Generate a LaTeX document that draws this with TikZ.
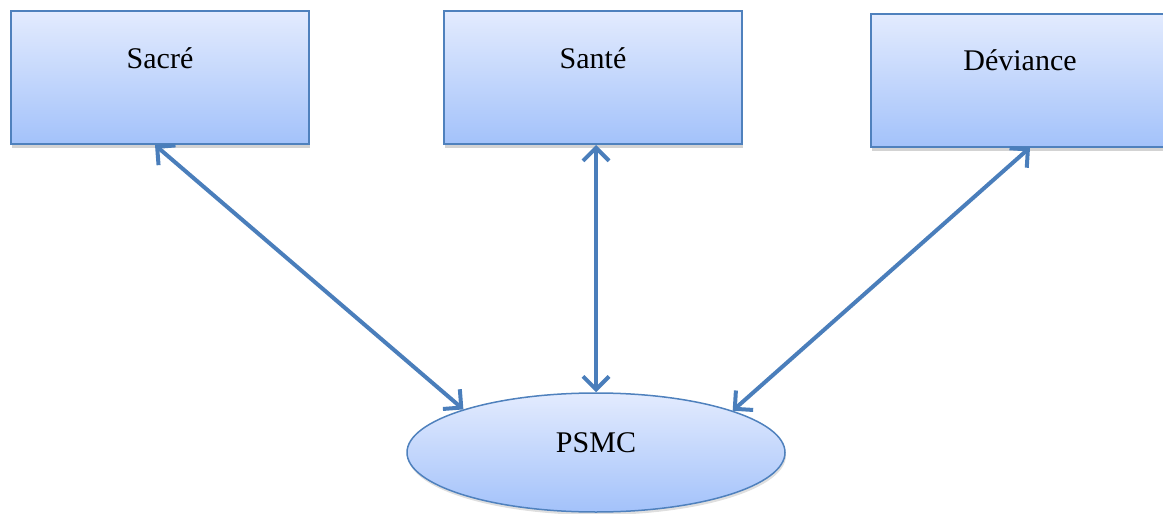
\documentclass[tikz,border=0pt]{standalone}
\usepackage{xcolor}
\usepackage{fontspec}
\setmainfont{Liberation Serif}
\usetikzlibrary{shadows,arrows.meta,shapes,positioning}
\definecolor{boxline}{RGB}{79,129,189}
\definecolor{boxtop}{RGB}{227,235,254}
\definecolor{boxbottom}{RGB}{163,194,250}
\definecolor{arrowline}{RGB}{74,126,187}

\begin{document}
\begin{tikzpicture}[x=1pt,y=-1pt,
  every node/.style={font=\fontsize{30}{36}\selectfont},
  concept/.style={rectangle,draw=boxline,line width=2pt,
    top color=boxtop,bottom color=boxbottom,
    minimum width=298pt,inner ysep=10pt,
    text height=47pt,text depth=66pt,
    drop shadow={shadow xshift=1pt,shadow yshift=-4pt,opacity=0.35}},
  core/.style={ellipse,draw=boxline,line width=1.5pt,
    top color=boxtop,bottom color=boxbottom,
    minimum width=378pt,minimum height=119pt,inner sep=0pt,
    text height=20pt,text depth=20pt,
    drop shadow={shadow xshift=1pt,shadow yshift=-3pt,opacity=0.25}},
  link/.style={draw=arrowline,line width=4pt,
    {Straight Barb[length=13pt,width=26pt,line width=4pt]}-{Straight Barb[length=13pt,width=26pt,line width=4pt]}}]
  \useasboundingbox (0,0) rectangle (1163,514);
  \node[concept] (sacre) at (160,77.5) {Sacré};
  \node[concept] (sante) at (593,77.5) {Santé};
  \node[concept] (deviance) at (1020,80) {Déviance};
  \node[core] (psmc) at (596,452.5) {PSMC};
  \draw[link] ([xshift=-5pt]sacre.south) -- (psmc.162);
  \draw[link] ([xshift=3pt]sante.south) -- (psmc.north);
  \draw[link] ([xshift=10pt]deviance.south) -- (psmc.17);
\end{tikzpicture}
\end{document}
